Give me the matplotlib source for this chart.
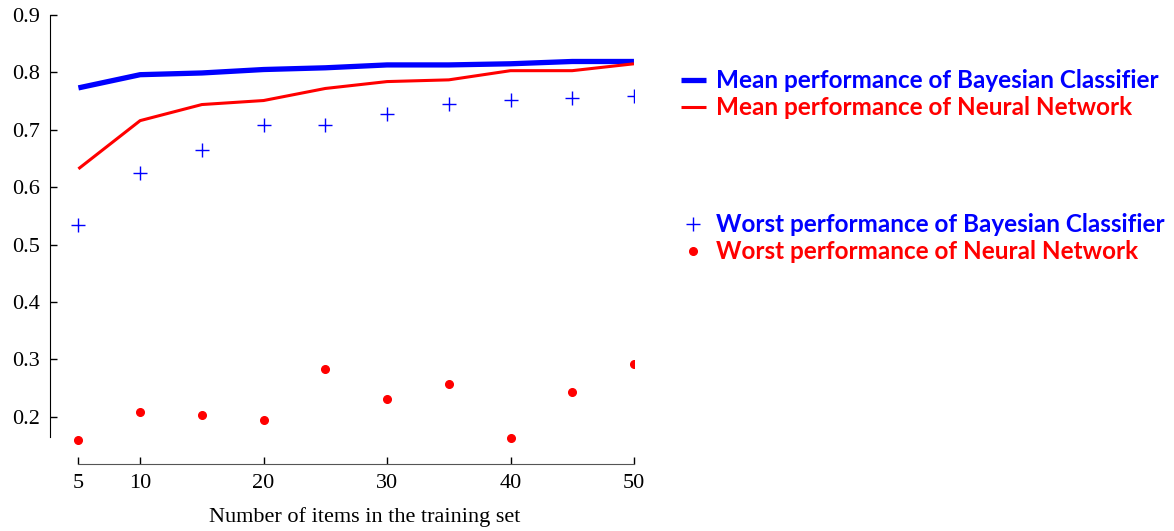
import numpy as np
import matplotlib
matplotlib.use('Agg')
from matplotlib import pyplot as plt

# training set sizes
n_items = [5, 10, 15, 20, 25, 30, 35, 40, 45, 50]

# mean / worst accuracy over the runs
bayes_mean = [0.773, 0.796, 0.799, 0.805, 0.808, 0.813, 0.813, 0.815, 0.819, 0.819]
nn_mean = [0.632, 0.716, 0.744, 0.751, 0.772, 0.784, 0.787, 0.803, 0.803, 0.815]
bayes_worst = [0.535, 0.625, 0.664, 0.709, 0.709, 0.728, 0.745, 0.752, 0.756, 0.759]
nn_worst = [0.160, 0.209, 0.204, 0.195, 0.284, 0.232, 0.257, 0.164, 0.244, 0.293]

x_ticks = [5, 10, 20, 30, 40, 50]
y_ticks = [0.2, 0.3, 0.4, 0.5, 0.6, 0.7, 0.8, 0.9]

plt.rcParams['font.family'] = 'Liberation Serif'
plt.rcParams['font.size'] = 16

fig = plt.figure(figsize=(11.74, 5.31), dpi=100)
ax = fig.add_axes([0.0426, 0.1262, 0.4974, 0.8456])

l1, = ax.plot(n_items, bayes_mean, color='#0000ff', lw=3.8, solid_capstyle='butt')
l2, = ax.plot(n_items, nn_mean, color='#ff0000', lw=2.2, solid_capstyle='butt')
l3, = ax.plot(n_items, bayes_worst, ls='none', marker='+', ms=10.5, mew=1.0, color='#0000ff')
l4, = ax.plot(n_items, nn_worst, ls='none', marker='o', ms=5.5, color='#ff0000')

ax.set_xlim(2.7, 50)
ax.set_ylim(0.118, 0.9)
ax.set_xticks(x_ticks)
ax.set_yticks(y_ticks)
ax.set_yticklabels(['%.1f' % v for v in y_ticks])
ax.tick_params(direction='in', length=5, width=1, pad=7, labelsize=16)

ax.spines['top'].set_visible(False)
ax.spines['right'].set_visible(False)
ax.spines['bottom'].set_bounds(5, 50)
ax.spines['left'].set_bounds(0.165, 0.9)
ax.spines['bottom'].set_color('#555555')

ax.set_xlabel('Number of items in the training set', fontsize=16)
ax.xaxis.set_label_coords(0.539, -0.095)

legend_font = {'family': 'Lato', 'weight': 'bold', 'size': 17.5}
leg1 = fig.legend([l1, l2],
                  ['Mean performance of Bayesian Classifier', 'Mean performance of Neural Network'],
                  loc='upper left', bbox_to_anchor=(0.572, 0.888), frameon=False,
                  prop=legend_font, labelcolor='linecolor', handlelength=1.0,
                  handletextpad=0.45, labelspacing=0.17, borderaxespad=0)
leg2 = fig.legend([l3, l4],
                  ['Worst performance of Bayesian Classifier', 'Worst performance of Neural Network'],
                  loc='upper left', bbox_to_anchor=(0.572, 0.617), frameon=False,
                  prop=legend_font, labelcolor=['#0000ff', '#ff0000'], handlelength=1.0,
                  handletextpad=0.45, labelspacing=0.17, borderaxespad=0, numpoints=1)

fig.savefig('out.png', dpi=100)
